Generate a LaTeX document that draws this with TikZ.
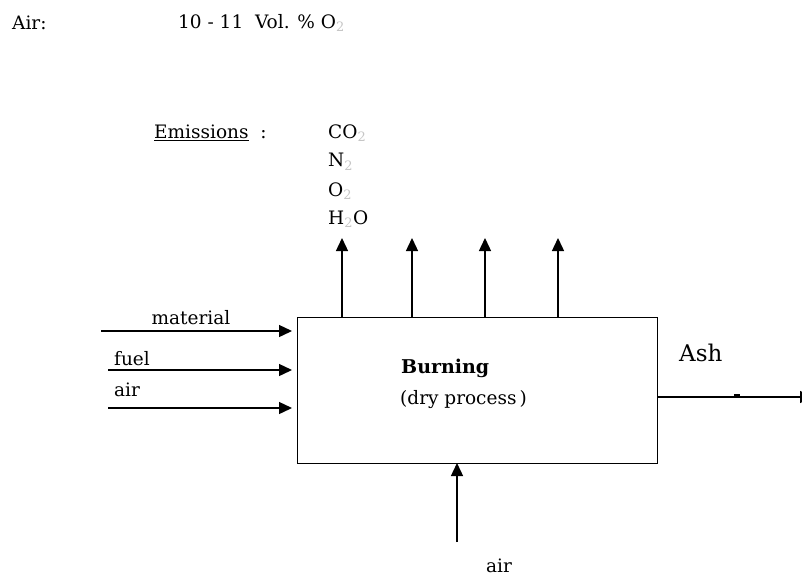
\documentclass[tikz,border=0pt]{standalone}
\usepackage{fontspec}
\setmainfont{DejaVu Serif}
\usetikzlibrary{arrows.meta}
\begin{document}
\begin{tikzpicture}[x=1pt,y=-1pt,
  conn/.style={line width=1.4pt,-{Triangle[length=13pt,width=12pt]}},
  lbl/.style={inner sep=0pt,font=\fontsize{18.5}{20}\selectfont}]
\newcommand{\subtwo}{\textcolor{gray!45}{\textsubscript{2}}}
\useasboundingbox (0,0) rectangle (802,579);
\fill[white] (0,0) rectangle (802,579);
% header
\node[lbl,anchor=west] (airhdr) at (12,23) {Air:};
\node[lbl,anchor=west] (volhdr) at (178,23) {10 - 11\ \ Vol. \% O\subtwo};
% emissions
\node[lbl,anchor=west] (emis) at (154,133) {\underline{Emissions}\ \ :};
\node[lbl,anchor=west] (co2) at (328,133) {CO\subtwo};
\node[lbl,anchor=west] (n2) at (328,162) {N\subtwo};
\node[lbl,anchor=west] (o2) at (328,191) {O\subtwo};
\node[lbl,anchor=west] (h2o) at (328,219) {H\subtwo O};
% box
\node[draw,line width=1.4pt,minimum width=360pt,minimum height=146pt,inner sep=0pt,anchor=north west] (box) at (297,317) {};
\node[inner sep=0pt,font=\fontsize{19}{21}\selectfont\bfseries,anchor=west] (burn) at (401,368) {Burning};
\node[lbl,anchor=west] (dry) at (400,400) {(dry process\,)};
% emission arrows
\foreach \x [count=\i] in {342,412,485,558}{
  \coordinate (u\i) at (\x,317);
  \coordinate (t\i) at (\x,238);
  \draw[conn] (u\i) -- (t\i);
}
% inputs
\coordinate (m0) at (101,331); \coordinate (m1) at (292,331);
\coordinate (f0) at (108,370); \coordinate (f1) at (292,370);
\coordinate (a0) at (108,408); \coordinate (a1) at (292,408);
\draw[conn] (m0) -- (m1);
\draw[conn] (f0) -- (f1);
\draw[conn] (a0) -- (a1);
\node[lbl] (mat) at (191,318) {material};
\node[lbl,anchor=west] (fuel) at (114,359) {fuel};
\node[lbl,anchor=west] (airin) at (114,390) {air};
% ash
\coordinate (ash0) at (657,397); \coordinate (ash1) at (813,397);
\draw[conn] (ash0) -- (ash1);
\draw[line width=2.2pt] (734,395) -- (740,395);
\node[inner sep=0pt,font=\fontsize{23}{25}\selectfont,anchor=west] (ash) at (679,353) {Ash};
% bottom air
\coordinate (b0) at (457,542); \coordinate (b1) at (457,463);
\draw[conn] (b0) -- (b1);
\node[lbl,anchor=west] (airb) at (486,566) {air};
\end{tikzpicture}
\end{document}
